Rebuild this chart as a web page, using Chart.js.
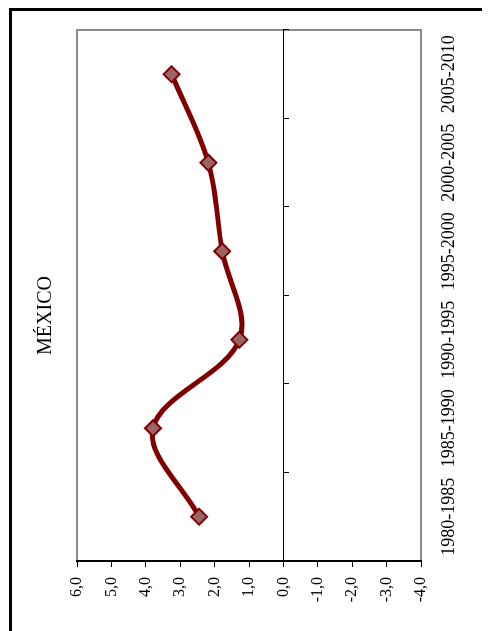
<!DOCTYPE html>
<html>
<head>
<meta charset="utf-8">
<script src="https://cdn.jsdelivr.net/npm/chart.js@4"></script>
<style>
  html, body { margin: 0; padding: 0; background: #fff; }
  #page { position: relative; width: 492px; height: 631px; overflow: hidden; background: #fff; }
  #frame { position: absolute; left: 9px; top: 8px; width: 470px; height: 700px;
           border-top: 3px solid #000; border-left: 3px solid #000; z-index: 2; }
  #wrap { position: absolute; left: 0; top: 0; width: 631px; height: 492px;
          transform-origin: 0 0; transform: translateY(631px) rotate(-90deg); }
</style>
</head>
<body>
<div id="page">
  <div id="wrap"><canvas id="chart" width="631" height="492"></canvas></div>
  <div id="frame"></div>
</div>
<script>
// data
const categories = ['1980-1985', '1985-1990', '1990-1995', '1995-2000', '2000-2005', '2005-2010'];
const values = [2.45, 3.79, 1.28, 1.78, 2.18, 3.25];
const valueMin = -4;
const valueMax = 6;
const chartTitle = 'MÉXICO';

const serif = "'Liberation Serif', 'Times New Roman', serif";

// grey box round the plot area
const areaBorder = {
    id: 'areaBorder',
    beforeDraw(chart) {
        const a = chart.chartArea;
        const ctx = chart.ctx;
        ctx.save();
        ctx.strokeStyle = '#8c8c8c';
        ctx.lineWidth = 2;
        ctx.strokeRect(a.left, a.top, a.right - a.left, a.bottom - a.top);
        ctx.restore();
    }
};

new Chart(document.getElementById('chart'), {
    type: 'line',
    data: {
        labels: categories,
        datasets: [{
            data: values,
            xAxisID: 'x',
            yAxisID: 'y',
            borderColor: '#800000',
            borderWidth: 5,
            tension: 0.35,
            pointStyle: 'rectRot',
            pointRadius: 8,
            pointBorderWidth: 2,
            pointBackgroundColor: '#9a6464',
            pointBorderColor: '#800000',
            fill: false
        }]
    },
    options: {
        responsive: false,
        animation: false,
        devicePixelRatio: 1,
        layout: { padding: 0 },
        plugins: {
            legend: { display: false },
            tooltip: { enabled: false },
            title: {
                display: true,
                text: chartTitle,
                color: '#000',
                font: { family: serif, size: 20, weight: 'normal' },
                padding: { top: 34, bottom: 19 }
            }
        },
        scales: {
            x: {
                type: 'category',
                position: 'bottom',
                offset: true,
                grid: { display: false },
                border: { display: false },
                ticks: {
                    color: '#000',
                    font: { family: serif, size: 18 },
                    autoSkip: false,
                    maxRotation: 0,
                    minRotation: 0,
                    padding: 9
                },
                afterFit: s => { s.height = 71; }
            },
            x0: {
                type: 'category',
                axis: 'x',
                position: { y: 0 },
                offset: true,
                grid: { drawOnChartArea: false, offset: true, tickLength: 5, color: '#000' },
                border: { color: '#000', width: 1 },
                ticks: { display: false }
            },
            y: {
                position: 'left',
                min: valueMin,
                max: valueMax,
                grid: { drawOnChartArea: false, tickLength: 6, color: '#000' },
                border: { color: '#000', width: 2 },
                ticks: {
                    stepSize: 1,
                    color: '#000',
                    font: { family: serif, size: 16 },
                    padding: 10,
                    callback: v => v.toFixed(1).replace('.', ',')
                },
                afterFit: s => { s.width = 70; }
            },
            // empty strip on the far side so the title stays centred on the whole canvas
            yr: {
                type: 'linear',
                position: 'right',
                grid: { display: false },
                border: { display: false },
                ticks: { display: false },
                afterFit: s => { s.width = 30; }
            }
        }
    },
    plugins: [areaBorder]
});
</script>
</body>
</html>
